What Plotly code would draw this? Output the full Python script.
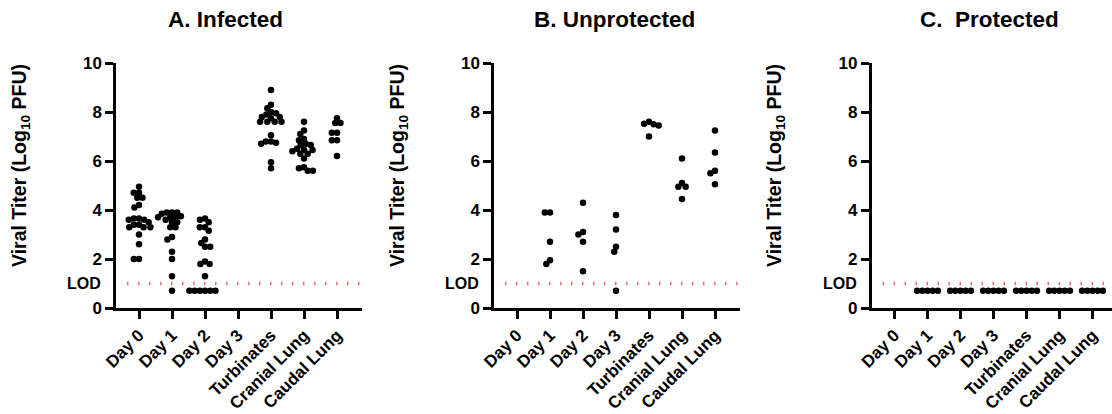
import plotly.graph_objects as go

# ---------------- data ----------------
categories = ["Day 0", "Day 1", "Day 2", "Day 3", "Turbinates", "Cranial Lung", "Caudal Lung"]
panel_titles = ["A. Infected", "B. Unprotected", "C.  Protected"]
y_tick_values = [0, 2, 4, 6, 8, 10]
LOD = 1.0

# Panel A: Infected
infected_day0 = [4.95, 4.7, 4.7, 4.5, 4.5, 4.2, 4.1, 3.65, 3.65, 3.6, 3.6, 3.5, 3.4, 3.4, 3.3, 3.3, 3.3, 3.0, 2.6, 2.0, 2.0]
infected_day1 = [3.9, 3.9, 3.9, 3.85, 3.75, 3.7, 3.7, 3.7, 3.6, 3.5, 3.5, 3.3, 3.3, 2.9, 2.8, 2.3, 2.0, 1.3, 0.7]
infected_day2 = [3.65, 3.6, 3.5, 3.3, 3.3, 3.15, 2.8, 2.65, 2.5, 2.5, 1.9, 1.8, 1.8, 1.3, 0.7, 0.7, 0.7, 0.7, 0.7, 0.7]
infected_day3 = []
infected_turbinates = [8.9, 8.3, 8.15, 8.0, 7.95, 7.9, 7.8, 7.8, 7.75, 7.6, 7.6, 7.6, 7.6, 7.05, 6.8, 6.8, 6.75, 6.7, 5.95, 5.7]
infected_cranial = [7.6, 7.25, 7.1, 6.9, 6.85, 6.7, 6.65, 6.65, 6.5, 6.45, 6.45, 6.4, 6.3, 6.3, 6.1, 5.75, 5.7, 5.6, 5.6]
infected_caudal = [7.75, 7.55, 7.55, 7.15, 7.15, 6.85, 6.85, 6.2]

# Panel B: Unprotected
unprot_day0 = []
unprot_day1 = [3.9, 3.9, 2.7, 1.95, 1.8]
unprot_day2 = [4.3, 3.1, 3.0, 2.7, 1.5]
unprot_day3 = [3.8, 3.2, 2.5, 2.3, 0.7]
unprot_turbinates = [7.6, 7.52, 7.5, 7.45, 7.0]
unprot_cranial = [6.1, 5.1, 4.95, 4.95, 4.45]
unprot_caudal = [7.25, 6.35, 5.6, 5.5, 5.05]

# Panel C: Protected
prot_day0 = []
prot_day1 = [0.7, 0.7, 0.7, 0.7, 0.7]
prot_day2 = [0.7, 0.7, 0.7, 0.7, 0.7]
prot_day3 = [0.7, 0.7, 0.7, 0.7, 0.7]
prot_turbinates = [0.7, 0.7, 0.7, 0.7, 0.7]
prot_cranial = [0.7, 0.7, 0.7, 0.7, 0.7]
prot_caudal = [0.7, 0.7, 0.7, 0.7, 0.7]

panels = [
    [infected_day0, infected_day1, infected_day2, infected_day3, infected_turbinates, infected_cranial, infected_caudal],
    [unprot_day0, unprot_day1, unprot_day2, unprot_day3, unprot_turbinates, unprot_cranial, unprot_caudal],
    [prot_day0, prot_day1, prot_day2, prot_day3, prot_turbinates, prot_cranial, prot_caudal],
]

# ---------------- layout geometry (pixels) ----------------
W, H = 1112, 414
PX_PER_CAT = 33.0
Y0_PX, Y10_PX = 308, 63
PX_PER_UNIT = (Y0_PX - Y10_PX) / 10.0
axis_left_px = [116, 494, 871.5]
title_cx_px = [225, 614, 989]
ytitle_cx_px = [20, 398, 775]
LEFT_PAD = 23.0
PANEL_W = 246.0


def swarm_offsets(vals, d=5.2):
    """Beeswarm horizontal offsets (pixels) computed from the values."""
    res = [0.0] * len(vals)
    placed = []
    order = sorted(range(len(vals)), key=lambda i: -vals[i])
    for i in order:
        y = vals[i] * PX_PER_UNIT
        cands = [0.0]
        for px, py in placed:
            dy = abs(py - y)
            if dy < d:
                dx = (d * d - dy * dy) ** 0.5
                cands += [px + dx, px - dx]
        cands.sort(key=lambda c: (round(abs(c), 6), c))
        for c in cands:
            if all((c - px) ** 2 + (y - py) ** 2 >= d * d - 1e-6 for px, py in placed):
                res[i] = c
                placed.append((c, y))
                break
    return res


fig = go.Figure()
font_family = "Liberation Sans, Arial, sans-serif"
annotations = []

for p, groups in enumerate(panels):
    sfx = "" if p == 0 else str(p + 1)
    xa, ya = "x" + sfx, "y" + sfx
    left = axis_left_px[p]
    right = min(left + PANEL_W, W)
    x_min = -LEFT_PAD / PX_PER_CAT
    x_max = (right - left - LEFT_PAD) / PX_PER_CAT

    xs, ys = [], []
    for ci, vals in enumerate(groups):
        offs = swarm_offsets(vals)
        for v, o in zip(vals, offs):
            xs.append(ci + o / PX_PER_CAT)
            ys.append(v)

    # LOD dotted line
    fig.add_trace(go.Scatter(
        x=[x_min + 11 / PX_PER_CAT, x_max], y=[LOD, LOD], mode="lines",
        line=dict(color="rgb(238,110,110)", width=3.5, dash="1.5px,9.5px"),
        xaxis=xa, yaxis=ya, showlegend=False, hoverinfo="skip"))

    fig.add_trace(go.Scatter(
        x=xs, y=ys, mode="markers",
        marker=dict(color="black", size=6.5, line=dict(width=0)),
        xaxis=xa, yaxis=ya, showlegend=False))

    axis_common = dict(
        showline=True, linecolor="black", linewidth=2.5,
        ticks="outside", ticklen=8, tickwidth=2.5, tickcolor="black",
        showgrid=False, zeroline=False, automargin=False,
    )
    fig.update_layout({
        "xaxis" + sfx: dict(
            axis_common,
            domain=[left / W, right / W], range=[x_min, x_max],
            tickmode="array", tickvals=list(range(len(categories))), ticktext=categories,
            tickangle=-45, anchor=ya,
            tickfont=dict(family=font_family, size=17, color="black", weight="bold"),
        ),
        "yaxis" + sfx: dict(
            axis_common,
            domain=[(H - Y0_PX) / H, (H - Y10_PX) / H], range=[0, 10],
            tickmode="array", tickvals=y_tick_values,
            ticktext=[str(v) for v in y_tick_values], anchor=xa,
            tickfont=dict(family=font_family, size=17, color="black", weight="bold"),
        ),
    })

    annotations.append(dict(
        text="LOD", x=x_min, y=LOD, xref=xa, yref=ya, xanchor="right", yanchor="middle",
        xshift=-13, showarrow=False,
        font=dict(family=font_family, size=16, color="black", weight="bold")))
    annotations.append(dict(
        text=panel_titles[p], x=title_cx_px[p] / W, y=(H - 20) / H, xref="paper", yref="paper",
        xanchor="center", yanchor="middle", showarrow=False,
        font=dict(family=font_family, size=22.5, color="black", weight="bold")))
    annotations.append(dict(
        text="Viral Titer (Log<sub>10</sub> PFU)", x=ytitle_cx_px[p] / W, y=(H - 166) / H,
        xref="paper", yref="paper", xanchor="center", yanchor="middle", textangle=-90,
        showarrow=False, font=dict(family=font_family, size=19.5, color="black", weight="bold")))

fig.update_layout(
    width=W, height=H, margin=dict(l=0, r=0, t=0, b=0, autoexpand=False),
    paper_bgcolor="white", plot_bgcolor="white",
    annotations=annotations, showlegend=False,
)

fig.write_html(
    "out.html",
    config={"displayModeBar": False},
    post_script="document.body.style.margin='0';document.body.style.padding='0';"
                "document.documentElement.style.overflow='hidden';",
)
